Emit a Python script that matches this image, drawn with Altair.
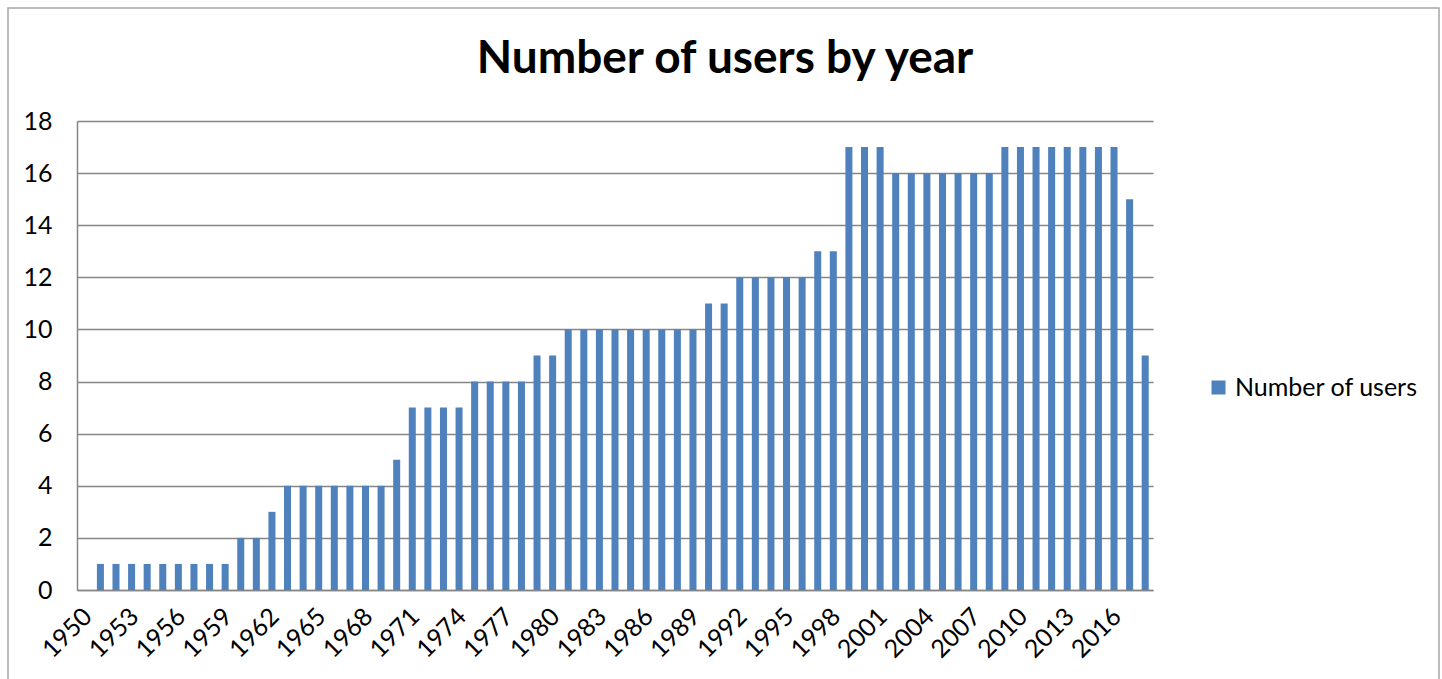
import altair as alt
import pandas as pd

# ---- data ----
years = list(range(1950, 2019))
users = [0,
         1, 1, 1, 1, 1, 1, 1, 1, 1,      # 1951-1959
         2, 2,                           # 1960-1961
         3,                              # 1962
         4, 4, 4, 4, 4, 4, 4,            # 1963-1969
         5,                              # 1970
         7, 7, 7, 7,                     # 1971-1974
         8, 8, 8, 8,                     # 1975-1978
         9, 9,                           # 1979-1980
         10, 10, 10, 10, 10, 10, 10, 10, 10,  # 1981-1989
         11, 11,                         # 1990-1991
         12, 12, 12, 12, 12,             # 1992-1996
         13, 13,                         # 1997-1998
         17, 17, 17,                     # 1999-2001
         16, 16, 16, 16, 16, 16, 16,     # 2002-2008
         17, 17, 17, 17, 17, 17, 17, 17, # 2009-2016
         15,                             # 2017
         9]                              # 2018
series_name = "Number of users"
tick_years = list(range(1950, 2017, 3))
y_ticks = [0, 2, 4, 6, 8, 10, 12, 14, 16, 18]

df = pd.DataFrame({"year": years, "users": users, "series": [series_name] * len(years)})

FONT = "Lato"
GRID = "#868686"
BLUE = "#4F81BD"

bars = alt.Chart(df).mark_bar(color=BLUE).encode(
    x=alt.X("year:O",
            scale=alt.Scale(paddingInner=0.55, paddingOuter=0.275),
            axis=alt.Axis(values=tick_years, labelAngle=-45, labelAlign="right",
                          labelBaseline="middle", labelPadding=22, labelOffset=3,
                          ticks=False,
                          domainColor=GRID, domainWidth=1.5, labelFontSize=25,
                          labelFont=FONT, labelColor="#000000", title=None,
                          grid=False)),
    y=alt.Y("users:Q",
            scale=alt.Scale(domain=[0, 18], nice=False),
            axis=alt.Axis(values=y_ticks, ticks=False, labelPadding=25,
                          domainColor=GRID, domainWidth=1.5, gridColor=GRID,
                          gridWidth=1.5, labelFontSize=25, labelFont=FONT,
                          labelColor="#000000", title=None)),
    color=alt.Color("series:N",
                    scale=alt.Scale(range=[BLUE]),
                    legend=alt.Legend(title=None, orient="none", legendX=1129,
                                      legendY=254, symbolType="square",
                                      symbolSize=196, symbolStrokeWidth=0,
                                      labelFontSize=25, labelFont=FONT,
                                      labelLimit=400,
                                      labelColor="#000000", labelOffset=4)),
)

border = alt.Chart(pd.DataFrame({"k": [0]})).mark_rect(
    fill=None, stroke="#A6A6A6", strokeWidth=1.5
).encode(
    x=alt.value(-69), x2=alt.value(1362), y=alt.value(-113), y2=alt.value(575)
)

chart = alt.layer(bars, border).properties(
    width=1076,
    height=469,
    title=alt.TitleParams("Number of users by year", font=FONT, fontSize=46,
                          fontWeight="bold", color="#000000", anchor="middle",
                          baseline="alphabetic", dx=110, dy=112, offset=0),
    padding={"left": 77, "top": 121, "right": 289, "bottom": 89},
    autosize=alt.AutoSizeParams(type="none"),
    background="#FFFFFF",
).configure_view(stroke=None)

chart.save("out.html", embed_options={"renderer": "svg", "actions": False})
